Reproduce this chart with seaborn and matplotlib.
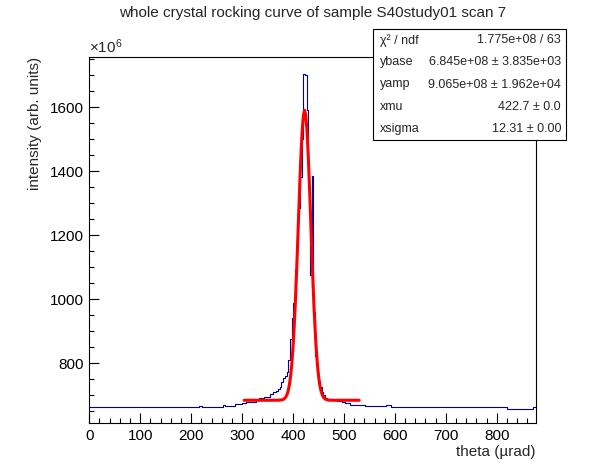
import numpy as np
import pandas as pd
import matplotlib
matplotlib.use("Agg")
import matplotlib.pyplot as plt
from matplotlib.ticker import MultipleLocator
from matplotlib.patches import Rectangle
import seaborn as sns

# histogram bin edges (theta, urad) and contents (x1e6 arb. units)
bin_edges = [0, 216, 221, 262, 266, 286, 299, 308, 318, 327,
             334, 344, 354, 360, 367, 370.7, 374, 377.3, 380.6, 383.9,
             387.2, 390.5, 393.8, 397.1, 400.4, 403.7, 407, 410.3, 413.6, 416.9,
             420.2, 423.5, 426.8, 430.1, 433.4, 436.7, 440, 443.3, 446.6, 449.9,
             453.2, 456.5, 459.8, 463.1, 466.4, 479, 486, 496, 502, 512,
             541, 583, 593, 820, 872, 877]
counts = [662, 666, 664, 670, 666, 672, 675, 678, 680, 685,
          690, 696, 703, 709, 713, 720, 727, 742, 753, 760,
          774, 810, 875, 940, 987, 1092, 1177, 1284, 1383, 1500,
          1703, 1700, 1590, 1352, 1076, 1385, 960, 823, 775, 745,
          725, 710, 700, 692, 686, 684, 681, 679, 675, 670,
          666, 670, 662, 658, 662]

# gaussian + constant fit results
ybase = 684.5     # x1e6
yamp = 906.5      # x1e6
xmu = 422.7
xsigma = 12.31
fit_range = (304, 530)

stat_names = ["\u03c7\u00b2 / ndf", "ybase", "yamp", "xmu", "xsigma"]
stat_values = ["1.775e+08 / 63", "6.845e+08 \u00b1 3.835e+03",
               "9.065e+08 \u00b1 1.962e+04", "422.7 \u00b1 0.0", "12.31 \u00b1 0.00"]

sns.set_style("ticks")
plt.rcParams["font.family"] = ["Liberation Sans", "DejaVu Sans"]
plt.rcParams["mathtext.fontset"] = "custom"
plt.rcParams["mathtext.rm"] = "Liberation Sans"
plt.rcParams["mathtext.it"] = "Liberation Sans:italic"

edges = np.array(bin_edges)
df = pd.DataFrame({"theta": (edges[:-1] + edges[1:]) / 2, "w": counts})

fig = plt.figure(figsize=(5.96, 4.72), dpi=100)
ax = fig.add_axes([0.1498, 0.1032, 0.7495, 0.7754])

sns.histplot(data=df, x="theta", weights="w", bins=list(bin_edges), element="step",
             fill=False, color="#000099", linewidth=0.8, ax=ax)

fx = np.linspace(fit_range[0], fit_range[1], 100)
fy = ybase + yamp * np.exp(-0.5 * ((fx - xmu) / xsigma) ** 2)
sns.lineplot(x=fx, y=fy, color="red", linewidth=2.2, ax=ax)

ax.set_xlim(0, 877)
ax.set_ylim(612.5, 1756.25)
ax.xaxis.set_major_locator(MultipleLocator(100))
ax.xaxis.set_minor_locator(MultipleLocator(20))
ax.yaxis.set_major_locator(MultipleLocator(200))
ax.yaxis.set_minor_locator(MultipleLocator(50))
ax.tick_params(which="both", direction="in", top=False, right=False,
               labelsize=11, width=0.8, colors="black")
ax.tick_params(which="major", length=7, pad=4)
ax.tick_params(which="minor", length=3.3)
for s in ax.spines.values():
    s.set_linewidth(0.8)
    s.set_color("black")

ax.set_xlabel("theta (\u00b5rad)", fontsize=11, loc="right")
ax.xaxis.set_label_coords(1.0, -0.058)
ax.set_ylabel("intensity (arb. units)", fontsize=11, loc="top")
ax.yaxis.set_label_coords(-0.105, 1.0)
ax.set_title("whole crystal rocking curve of sample S40study01 scan 7",
             fontsize=11, y=1.087)
ax.text(0.0, 1.012, r"$\times$10$^{6}$", transform=ax.transAxes,
        fontsize=11, ha="left", va="baseline")

# stats box
bx0, bx1 = 373 / 596, 566 / 596
by0, by1 = 1 - 140 / 472, 1 - 29 / 472
fig.patches.append(Rectangle((bx0, by0), bx1 - bx0, by1 - by0,
                             transform=fig.transFigure, facecolor="white",
                             edgecolor="black", linewidth=0.8, zorder=5))
row_h = (by1 - by0) / len(stat_names)
for i, (n, v) in enumerate(zip(stat_names, stat_values)):
    yy = by1 - row_h * (i + 0.5)
    fig.text(380 / 596, yy, n, fontsize=9, ha="left", va="center", zorder=6)
    fig.text(561 / 596, yy, v, fontsize=9, ha="right", va="center", zorder=6)

fig.savefig("out.png", dpi=100)
